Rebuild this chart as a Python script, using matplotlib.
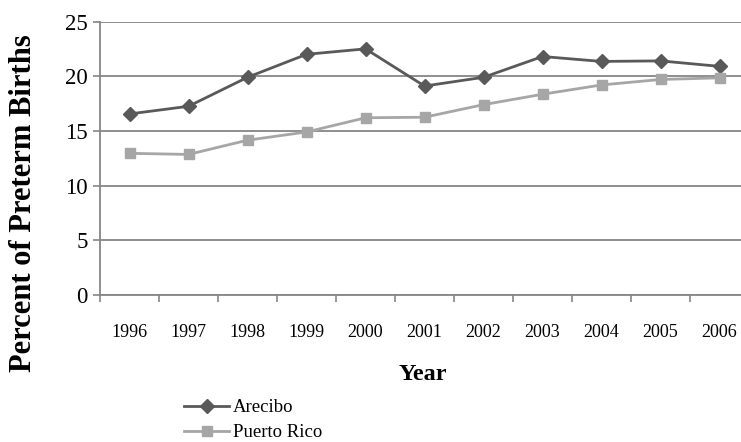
import matplotlib
matplotlib.use("Agg")
import matplotlib.pyplot as plt

# ---------------------------------------------------------------------------
# Data
# ---------------------------------------------------------------------------
YEARS = ["1996", "1997", "1998", "1999", "2000", "2001",
         "2002", "2003", "2004", "2005", "2006"]
ARECIBO = [16.55, 17.25, 19.9, 22.0, 22.5, 19.1, 19.9, 21.8, 21.35, 21.4, 20.9]
PUERTO_RICO = [12.95, 12.85, 14.15, 14.9, 16.2, 16.25, 17.4, 18.35, 19.2, 19.7, 19.85]
Y_TICKS = [0, 5, 10, 15, 20, 25]

plt.rcParams["font.family"] = ["Liberation Serif", "DejaVu Serif"]

fig = plt.figure(figsize=(7.41, 4.42), dpi=100)
# axes right edge runs slightly past the image edge, as in the reference
ax = fig.add_axes([100 / 741, 1 - 295 / 442, 649 / 741, 273.5 / 442])

x = list(range(len(YEARS)))
ax.plot(x, ARECIBO, color="#595959", lw=2, marker="D", ms=7,
        label="Arecibo", zorder=3)
ax.plot(x, PUERTO_RICO, color="#a6a6a6", lw=2, marker="s", ms=7,
        label="Puerto Rico", zorder=3)

ax.set_xlim(-0.5, len(YEARS) - 0.5)
ax.set_ylim(0, 25)
ax.set_yticks(Y_TICKS)
ax.set_yticklabels([str(v) for v in Y_TICKS], fontsize=16.5)
ax.yaxis.grid(True, color="#868686", lw=1.3)
ax.set_axisbelow(True)

# category ticks between labels
ax.set_xticks([i - 0.5 for i in range(len(YEARS) + 1)])
ax.set_xticklabels([])
ax.set_xticks(x, minor=True)
ax.set_xticklabels(YEARS, minor=True, fontsize=13)
ax.tick_params(axis="x", which="major", length=5, color="#868686", width=1.2)
ax.tick_params(axis="x", which="minor", length=0, pad=21)
ax.tick_params(axis="y", length=5, color="#868686", width=1.2, pad=4)

for side in ["top", "right"]:
    ax.spines[side].set_visible(False)
for side in ["left", "bottom"]:
    ax.spines[side].set_color("#868686")
    ax.spines[side].set_linewidth(1.3)

fig.text(24 / 741, 1 - 203 / 442, "Percent of Preterm Births", rotation=90,
         ha="center", va="center", fontsize=22, fontweight="bold")
fig.text(423 / 741, 1 - 375 / 442, "Year", ha="center", va="center",
         fontsize=17.5, fontweight="bold")

fig.legend(loc="upper left", bbox_to_anchor=(175 / 741, 1 - 390 / 442),
           frameon=False, fontsize=13.5, handlelength=2.4, handletextpad=0.2,
           labelspacing=0.4, borderpad=0)

fig.savefig("out.png", dpi=100)
